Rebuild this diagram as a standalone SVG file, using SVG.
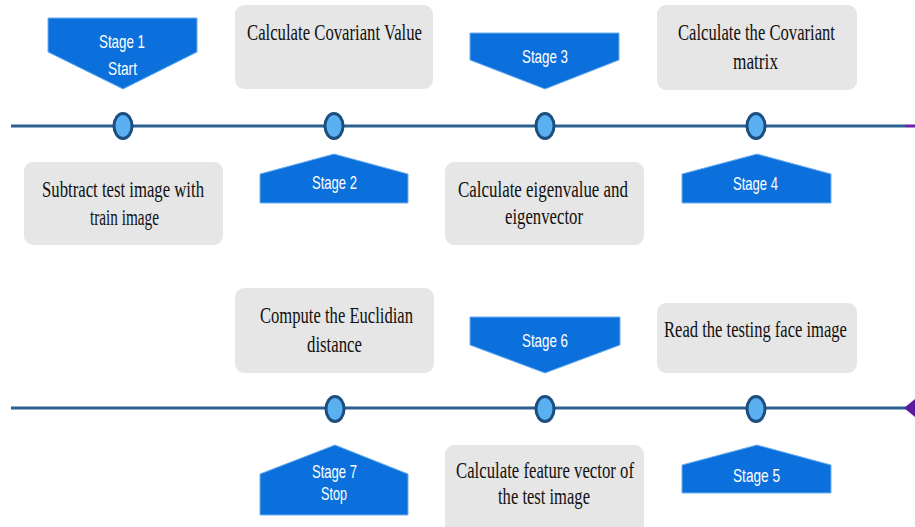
<svg xmlns="http://www.w3.org/2000/svg" width="915" height="527" viewBox="0 0 915 527">
<style>
.box{fill:#E6E6E6}
.stage{fill:#0B70DC;stroke:#6FB0F0;stroke-width:1}
.dot{fill:#5BB0F2;stroke:#1C4E7F;stroke-width:3}
.tl{stroke:#2C5F92;stroke-width:3;fill:none}
.bt{font-family:"Liberation Serif","DejaVu Serif",serif;font-size:23px;fill:#111;text-anchor:middle}
.st{font-family:"Liberation Sans",Arial,sans-serif;font-size:19px;fill:#fff;text-anchor:middle}
</style>
<rect width="915" height="527" fill="#fff"/>
<g id="connectors">
  <line class="tl" x1="11" y1="126" x2="905" y2="126"/>
  <line x1="905" y1="126" x2="915" y2="126" stroke="#6A1FA8" stroke-width="3"/>
  <line class="tl" x1="11" y1="408" x2="906" y2="408"/>
  <polygon points="904,408 915,399 915,417" fill="#5A1D9E"/>
</g>
<g id="dots">
  <ellipse class="dot" cx="123" cy="126" rx="9" ry="12.5"/>
  <ellipse class="dot" cx="334" cy="126" rx="9" ry="12.5"/>
  <ellipse class="dot" cx="545" cy="126" rx="9" ry="12.5"/>
  <ellipse class="dot" cx="756" cy="126" rx="9" ry="12.5"/>
  <ellipse class="dot" cx="335" cy="409" rx="9" ry="12.5"/>
  <ellipse class="dot" cx="545" cy="409" rx="9" ry="12.5"/>
  <ellipse class="dot" cx="756" cy="409" rx="9" ry="12.5"/>
</g>
<g id="stage1">
  <polygon class="stage" points="48,18 197,18 197,52 123,89 48,52"/>
  <text class="st" x="122" y="48" textLength="46" lengthAdjust="spacingAndGlyphs">Stage 1</text>
  <text class="st" x="122.5" y="75" textLength="29" lengthAdjust="spacingAndGlyphs">Start</text>
</g>
<g id="box1">
  <rect class="box" x="24" y="162" width="199" height="83" rx="9"/>
  <text class="bt" x="123" y="197" textLength="162" lengthAdjust="spacingAndGlyphs">Subtract test image with</text>
  <text class="bt" x="124.5" y="225" textLength="69" lengthAdjust="spacingAndGlyphs">train image</text>
</g>
<g id="box2">
  <rect class="box" x="235" y="5" width="198" height="84" rx="9"/>
  <text class="bt" x="334.5" y="40" textLength="175" lengthAdjust="spacingAndGlyphs">Calculate Covariant Value</text>
</g>
<g id="stage2">
  <polygon class="stage" points="260,174 334,154 408,174 408,203 260,203"/>
  <text class="st" x="334.5" y="189" textLength="45" lengthAdjust="spacingAndGlyphs">Stage 2</text>
</g>
<g id="stage3">
  <polygon class="stage" points="470,33 619,33 619,60 545,89 470,60"/>
  <text class="st" x="545" y="63" textLength="46" lengthAdjust="spacingAndGlyphs">Stage 3</text>
</g>
<g id="box3">
  <rect class="box" x="445" y="162" width="199" height="83" rx="9"/>
  <text class="bt" x="543" y="197" textLength="170" lengthAdjust="spacingAndGlyphs">Calculate eigenvalue and</text>
  <text class="bt" x="544" y="224" textLength="78" lengthAdjust="spacingAndGlyphs">eigenvector</text>
</g>
<g id="box4">
  <rect class="box" x="657" y="5" width="200" height="85" rx="9"/>
  <text class="bt" x="756.5" y="40" textLength="157" lengthAdjust="spacingAndGlyphs">Calculate the Covariant</text>
  <text class="bt" x="755.5" y="69" textLength="45" lengthAdjust="spacingAndGlyphs">matrix</text>
</g>
<g id="stage4">
  <polygon class="stage" points="682,174 757,154 831,174 831,203 682,203"/>
  <text class="st" x="755.5" y="190" textLength="45" lengthAdjust="spacingAndGlyphs">Stage 4</text>
</g>
<g id="box5">
  <rect class="box" x="657" y="303" width="200" height="70" rx="9"/>
  <text class="bt" transform="translate(755.5,337) scale(0.72,1)" x="0" y="0" font-size="21">Read the testing face image</text>
</g>
<g id="stage5">
  <polygon class="stage" points="682,465 757,445 831,465 831,493 682,493"/>
  <text class="st" x="756.5" y="482" textLength="47" lengthAdjust="spacingAndGlyphs">Stage 5</text>
</g>
<g id="stage6">
  <polygon class="stage" points="470,317 620,317 620,345 545,373 470,345"/>
  <text class="st" x="545" y="347" textLength="46" lengthAdjust="spacingAndGlyphs">Stage 6</text>
</g>
<g id="box6">
  <rect class="box" x="445" y="445" width="199" height="90" rx="9"/>
  <text class="bt" x="545" y="478" textLength="178" lengthAdjust="spacingAndGlyphs">Calculate feature vector of</text>
  <text class="bt" x="544" y="504" textLength="92" lengthAdjust="spacingAndGlyphs">the test image</text>
</g>
<g id="box7">
  <rect class="box" x="235" y="288" width="199" height="85" rx="9"/>
  <text class="bt" x="336.5" y="323" textLength="153" lengthAdjust="spacingAndGlyphs">Compute the Euclidian</text>
  <text class="bt" x="334.5" y="352" textLength="55" lengthAdjust="spacingAndGlyphs">distance</text>
</g>
<g id="stage7">
  <polygon class="stage" points="260,474 335,445 408,474 408,515 260,515"/>
  <text class="st" x="334.5" y="478" textLength="45" lengthAdjust="spacingAndGlyphs">Stage 7</text>
  <text class="st" x="334" y="500" textLength="26" lengthAdjust="spacingAndGlyphs">Stop</text>
</g>
</svg>
